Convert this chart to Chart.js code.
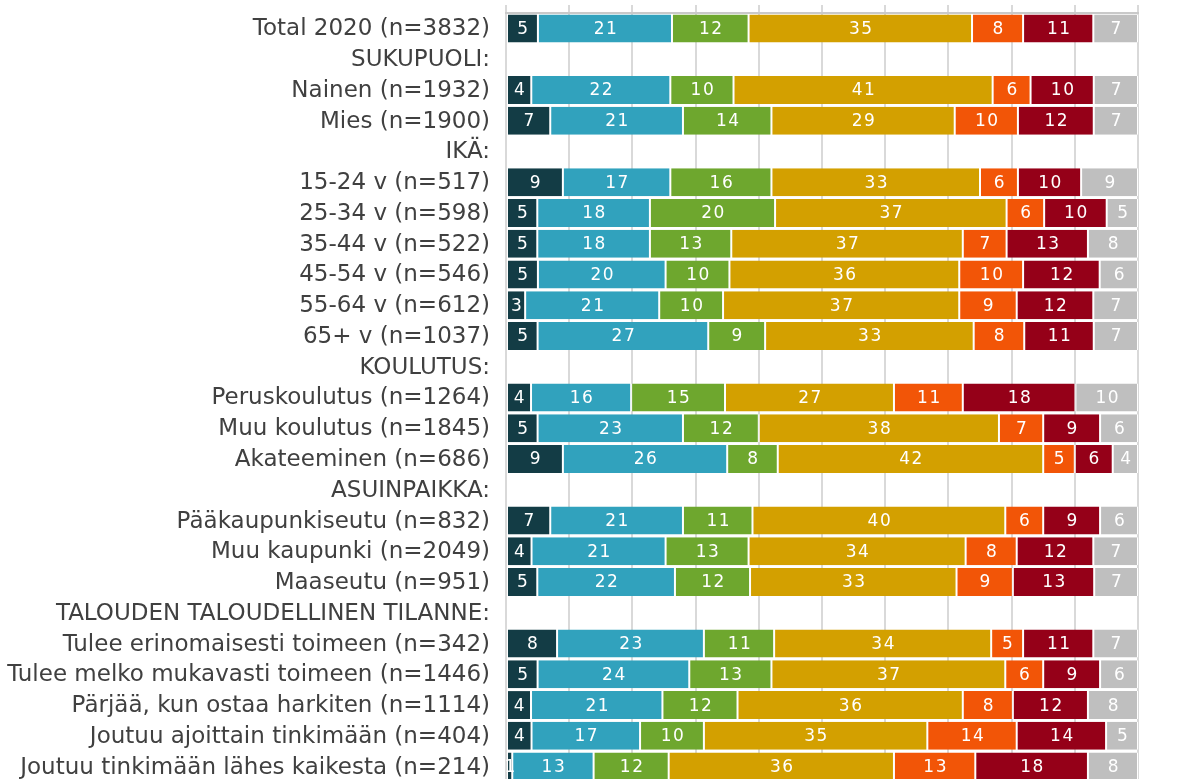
<!DOCTYPE html>
<html>
<head>
<meta charset="utf-8">
<script src="https://cdn.jsdelivr.net/npm/chart.js@4/dist/chart.umd.min.js"></script>
<style>
  html,body{margin:0;padding:0;background:#fff;overflow:hidden;}
  #chart{display:block;}
</style>
</head>
<body>
<canvas id="chart" width="1188" height="790"></canvas>
<script>
const categories = [
  'Total 2020 (n=3832)', 'SUKUPUOLI:', 'Nainen (n=1932)', 'Mies (n=1900)',
  'IKÄ:', '15-24 v (n=517)', '25-34 v (n=598)', '35-44 v (n=522)', '45-54 v (n=546)', '55-64 v (n=612)', '65+ v (n=1037)',
  'KOULUTUS:', 'Peruskoulutus (n=1264)', 'Muu koulutus (n=1845)', 'Akateeminen (n=686)',
  'ASUINPAIKKA:', 'Pääkaupunkiseutu (n=832)', 'Muu kaupunki (n=2049)', 'Maaseutu (n=951)',
  'TALOUDEN TALOUDELLINEN TILANNE:', 'Tulee erinomaisesti toimeen (n=342)', 'Tulee melko mukavasti toimeen (n=1446)',
  'Pärjää, kun ostaa harkiten (n=1114)', 'Joutuu ajoittain tinkimään (n=404)', 'Joutuu tinkimään lähes kaikesta (n=214)'
];
// header rows have no bar (null)
const s1 = [5, null, 4, 7, null, 9, 5, 5, 5, 3, 5, null, 4, 5, 9, null, 7, 4, 5, null, 8, 5, 4, 4, 1];
const s2 = [21, null, 22, 21, null, 17, 18, 18, 20, 21, 27, null, 16, 23, 26, null, 21, 21, 22, null, 23, 24, 21, 17, 13];
const s3 = [12, null, 10, 14, null, 16, 20, 13, 10, 10, 9, null, 15, 12, 8, null, 11, 13, 12, null, 11, 13, 12, 10, 12];
const s4 = [35, null, 41, 29, null, 33, 37, 37, 36, 37, 33, null, 27, 38, 42, null, 40, 34, 33, null, 34, 37, 36, 35, 36];
const s5 = [8, null, 6, 10, null, 6, 6, 7, 10, 9, 8, null, 11, 7, 5, null, 6, 8, 9, null, 5, 6, 8, 14, 13];
const s6 = [11, null, 10, 12, null, 10, 10, 13, 12, 12, 11, null, 18, 9, 6, null, 9, 12, 13, null, 11, 9, 12, 14, 18];
const s7 = [7, null, 7, 7, null, 9, 5, 8, 6, 7, 7, null, 10, 6, 4, null, 6, 7, 7, null, 7, 6, 8, 5, 8];
const seriesNames = ['1', '2', '3', '4', '5', '6', '7'];
const seriesColors = ['#133c45', '#31a2bd', '#6ea72e', '#d3a000', '#f25507', '#950018', '#bfbfbf'];
const xTicks = [0, 10, 20, 30, 40, 50, 60, 70, 80, 90, 100];

const series = [s1, s2, s3, s4, s5, s6, s7];
// rounded shares don't always add up to 100, so scale each row to full width
const rowSum = categories.map((c, i) => series.reduce((a, s) => a + (s[i] || 0), 0));

const datasets = series.map((s, k) => ({
  label: seriesNames[k],
  data: s.map((v, i) => v == null ? null : v * 100 / rowSum[i]),
  raw: s,
  backgroundColor: seriesColors[k],
  borderColor: '#ffffff',
  borderWidth: {left: 1, right: 1, top: 0, bottom: 0},
  borderSkipped: false,
  categoryPercentage: 0.91,
  barPercentage: 1
}));

// bar values + category names (drawn here so big labels don't shift the layout)
const labelsPlugin = {
  id: 'labelsPlugin',
  afterDatasetsDraw(chart){
    const ctx = chart.ctx;
    const y = chart.scales.y;
    ctx.save();
    ctx.font = '17px "DejaVu Sans"';
    ctx.letterSpacing = '1.5px';
    ctx.fillStyle = '#ffffff';
    ctx.textAlign = 'center';
    ctx.textBaseline = 'middle';
    chart.data.datasets.forEach((ds, k) => {
      chart.getDatasetMeta(k).data.forEach((bar, i) => {
        const v = ds.raw[i];
        if(v == null) return;
        ctx.fillText(String(v), (bar.x + bar.base) / 2 + 1, bar.y + 1);
      });
    });
    ctx.letterSpacing = '0px';
    ctx.font = '23px "DejaVu Sans"';
    ctx.fillStyle = '#404040';
    ctx.textAlign = 'right';
    categories.forEach((c, i) => {
      ctx.fillText(c, chart.chartArea.left - 16, y.getPixelForValue(i) + 1);
    });
    ctx.restore();
  }
};

new Chart(document.getElementById('chart'), {
  type: 'bar',
  data: {labels: categories, datasets},
  options: {
    indexAxis: 'y',
    responsive: false,
    animation: false,
    devicePixelRatio: 1,
    layout: {autoPadding: false, padding: {top: 5, right: 50, bottom: 8, left: 0}},
    plugins: {legend: {display: false}, tooltip: {enabled: false}},
    scales: {
      x: {
        position: 'top',
        stacked: true,
        min: 0, max: 100,
        afterBuildTicks: s => { s.ticks = xTicks.map(v => ({value: v})); },
        afterFit: s => { s.height = 8; },
        ticks: {display: false},
        grid: {color: '#d9d9d9', lineWidth: 2, tickLength: 8, drawTicks: true},
        border: {display: true, color: '#c9c9c9', width: 2}
      },
      y: {
        stacked: true,
        afterFit: s => { s.width = 506; },
        grid: {display: false, drawTicks: false},
        border: {display: false},
        ticks: {display: false}
      }
    }
  },
  plugins: [labelsPlugin]
});
</script>
</body>
</html>
